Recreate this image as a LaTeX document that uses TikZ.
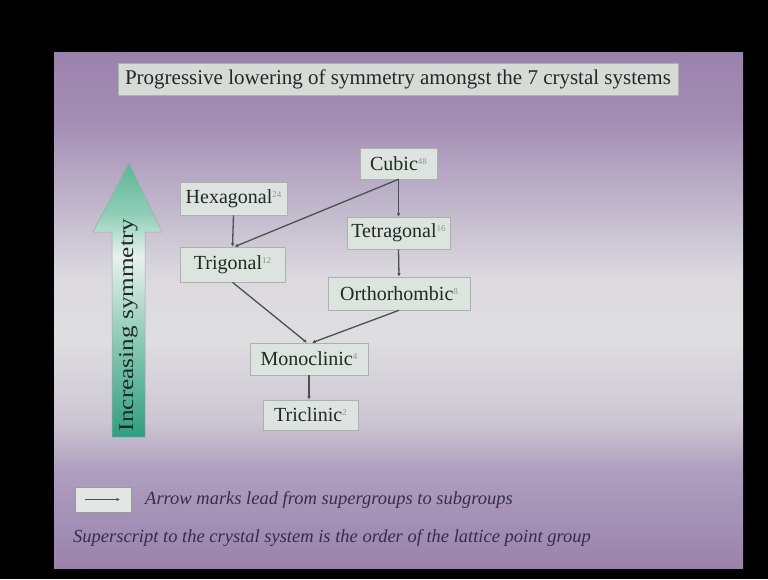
\documentclass[tikz,border=0pt]{standalone}
\usepackage{fontspec}
\setmainfont{Liberation Serif}
\usetikzlibrary{arrows.meta}
\definecolor{slidetop}{HTML}{9A82AD}
\definecolor{boxfill}{HTML}{DDE3DE}
\definecolor{boxline}{HTML}{A9B2AB}
\definecolor{txtcol}{HTML}{1F2A25}
\definecolor{supgray}{HTML}{8E978F}
\definecolor{linecol}{HTML}{46544C}
\definecolor{legtxt}{HTML}{342E4C}
\pgfdeclareverticalshading{slideshade}{100bp}{color(0bp)=(slidetop); color(25bp)=(slidetop);
  color(34.5bp)=(rgb,255:red,174;green,159;blue,191);
  color(39.3bp)=(rgb,255:red,205;green,198;blue,211);
  color(47bp)=(rgb,255:red,222;green,221;blue,224);
  color(53bp)=(rgb,255:red,220;green,218;blue,223);
  color(60.7bp)=(rgb,255:red,190;green,180;blue,202);
  color(68.4bp)=(rgb,255:red,164;green,141;blue,180);
  color(75bp)=(slidetop); color(100bp)=(slidetop)}
\pgfdeclareverticalshading{arrowshade}{100bp}{color(0bp)=(rgb,255:red,48;green,158;blue,127);
  color(25bp)=(rgb,255:red,48;green,158;blue,127);
  color(42bp)=(rgb,255:red,135;green,200;blue,178);
  color(58bp)=(rgb,255:red,232;green,241;blue,237);
  color(62bp)=(rgb,255:red,184;green,224;blue,210);
  color(66bp)=(rgb,255:red,141;green,205;blue,182);
  color(75bp)=(rgb,255:red,92;green,182;blue,150);
  color(100bp)=(rgb,255:red,92;green,182;blue,150)}
\newcommand\supnum[1]{\raisebox{6pt}{\fontsize{9pt}{9pt}\selectfont\color{supgray}#1}}
\tikzset{
  sysbox/.style={draw=boxline, line width=0.6pt, fill=boxfill, inner sep=0pt,
    text=txtcol, font=\fontsize{20pt}{24pt}\selectfont, anchor=center},
  link/.style={draw=linecol, line width=1.3pt, -{Latex[length=3.5pt,width=3.5pt]}},
  legendtext/.style={text=legtxt, font=\fontsize{18.5pt}{22pt}\selectfont\itshape, anchor=west, inner sep=0pt}
}
\begin{document}
\begin{tikzpicture}[x=1pt,y=-1pt]
\useasboundingbox (0,0) rectangle (768,579);
\fill[black] (0,0) rectangle (768,579);
\shade[shading=slideshade] (54,52) rectangle (743,568);
% title
\node[sysbox, minimum width=560pt, minimum height=32pt, fill=boxfill!92!gray, font=\fontsize{21pt}{25pt}\selectfont] (title) at (398,79)
  {Progressive lowering of symmetry amongst the 7 crystal systems};
% big arrow
\shade[shading=arrowshade, draw=gray!70, line width=0.5pt]
  (129,163) -- (162,232) -- (145,232) -- (145,437) -- (112,437) -- (112,232) -- (93,232) -- cycle;
\node[rotate=90, text=txtcol, inner sep=0pt, font=\fontsize{21pt}{24pt}\selectfont] (incsym) at (128.5,325)
  {\scalebox{1.2}[1]{Increasing symmetry}};
% crystal systems
\node[sysbox, minimum width=77pt, minimum height=31pt] (cubic) at (398.5,163.5) {Cubic\supnum{48}};
\node[sysbox, minimum width=107pt, minimum height=33pt] (hex) at (233.5,198.5) {Hexagonal\supnum{24}};
\node[sysbox, minimum width=103pt, minimum height=32pt] (tet) at (398.5,233) {Tetragonal\supnum{16}};
\node[sysbox, minimum width=105pt, minimum height=35pt] (trig) at (232.5,264.5) {Trigonal\supnum{12}};
\node[sysbox, minimum width=142pt, minimum height=33pt] (ortho) at (399,293.5) {Orthorhombic\supnum{8}};
\node[sysbox, minimum width=118pt, minimum height=32pt] (mono) at (309,359) {Monoclinic\supnum{4}};
\node[sysbox, minimum width=95pt, minimum height=30pt] (tri) at (310.5,415) {Triclinic\supnum{2}};
% connectors
\draw[link] (hex.south) -- (trig.north);
\draw[link] (cubic.south) -- ([xshift=2pt]trig.north);
\draw[link] (cubic.south) -- (tet.north);
\draw[link] (tet.south) -- (ortho.north);
\draw[link] (trig.south) -- ([xshift=-2pt]mono.north);
\draw[link] (ortho.south) -- ([xshift=3pt]mono.north);
\draw[link] (mono.south) -- (mono.south |- tri.north);
% legend
\node[draw=gray!80, line width=0.6pt, fill=boxfill!85!white, minimum width=56pt, minimum height=25pt, inner sep=0pt] (legbox) at (103,499.5) {};
\coordinate (legA) at (85,499.5);
\coordinate (legB) at (120,499.5);
\draw[link, line width=1pt] (legA) -- (legB);
\node[legendtext] (legend) at (145,499.5) {Arrow marks lead from supergroups to subgroups};
\node[legendtext] (note) at (73,538) {Superscript to the crystal system is the order of the lattice point group};
\end{tikzpicture}
\end{document}
